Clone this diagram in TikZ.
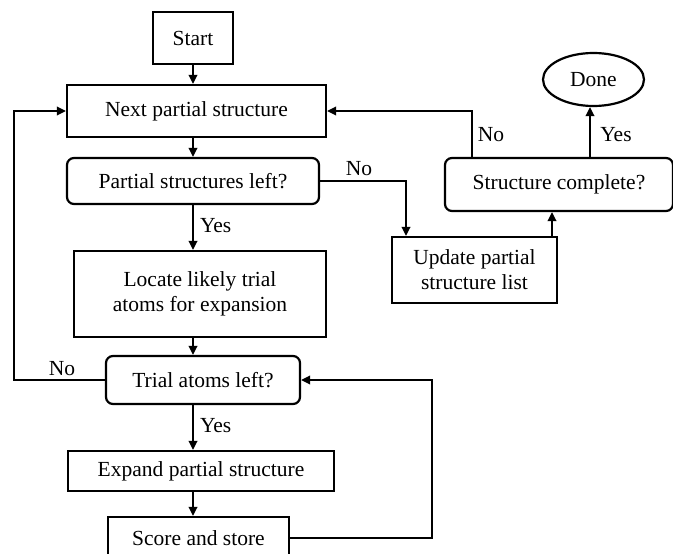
\documentclass[tikz,border=0pt]{standalone}
\usepackage{fontspec}
\setmainfont{Liberation Serif}
\usetikzlibrary{arrows.meta,shapes.geometric,calc}
\tikzset{
  every node/.style={font=\fontsize{21.5}{25}\selectfont},
  box/.style={draw, line width=2.2pt, rectangle, inner sep=0pt, align=center},
  rbox/.style={box, rounded corners=7pt},
  oval/.style={draw, line width=2.2pt, ellipse, inner sep=0pt},
  arr/.style={line width=2pt, -{Triangle[length=9pt,width=8.5pt]}},
  ln/.style={line width=2pt},
  lbl/.style={inner sep=0pt}
}
\begin{document}
\begin{tikzpicture}[x=1pt,y=-1pt]
\useasboundingbox (0,0) rectangle (673,554);
% nodes
\node[box, minimum width=80pt, minimum height=52pt] (start) at (193,38) {Start};
\node[box, minimum width=259pt, minimum height=52pt] (next) at (196.5,111) {Next partial structure};
\node[rbox, minimum width=252pt, minimum height=46pt] (psl) at (193,181) {Partial structures left?};
\node[box, minimum width=252pt, minimum height=86pt] (locate) at (200,294) {Locate likely trial\\atoms for expansion};
\node[rbox, minimum width=194pt, minimum height=48pt] (trial) at (203,380) {Trial atoms left?};
\node[box, minimum width=266pt, minimum height=40pt] (expand) at (201,471) {Expand partial structure};
\node[box, minimum width=181pt, minimum height=42pt] (score) at (198.5,538) {Score and store};
\node[box, minimum width=165pt, minimum height=66pt] (update) at (474.5,270) {Update partial\\structure list};
\node[rbox, minimum width=228pt, minimum height=53pt] (sc) at (559,184.5) {Structure complete?};
\node[oval, minimum width=101pt, minimum height=53pt] (done) at (593.5,79.5) {Done};
% helper coordinates
\coordinate (cx) at (193,0);
\coordinate (lx) at (14,0);
\coordinate (rx) at (432,0);
\coordinate (nx) at (406,0);
\coordinate (ux) at (552,0);
\coordinate (yx) at (590,0);
\coordinate (bx) at (472,0);
% main flow
\draw[arr] (cx |- start.south) -- (cx |- next.north);
\draw[arr] (cx |- next.south) -- (cx |- psl.north);
\draw[arr] (cx |- psl.south) -- (cx |- locate.north) node[lbl, pos=0.45, right=6pt] {Yes};
\draw[arr] (cx |- locate.south) -- (cx |- trial.north);
\draw[arr] (cx |- trial.south) -- (cx |- expand.north) node[lbl, pos=0.45, right=6pt] {Yes};
\draw[arr] (cx |- expand.south) -- (cx |- score.north);
% loops
\draw[arr] (trial.west) -- (trial.west -| lx) |- (next.west);
\node[lbl] (nol) at (62,369) {No};
\draw[arr] (score.east) -- (score.east -| rx) |- (trial.east);
\draw[arr] (psl.east) -| (nx |- update.north);
\node[lbl] (nop) at (359,169) {No};
\draw[arr] (ux |- update.north) -- (ux |- sc.south);
\draw[arr] (yx |- sc.north) -- (yx |- done.south);
\node[lbl] (yesd) at (616,135) {Yes};
\draw[arr] (bx |- sc.north) |- (next.east);
\node[lbl] (nos) at (491,135) {No};
\end{tikzpicture}
\end{document}
